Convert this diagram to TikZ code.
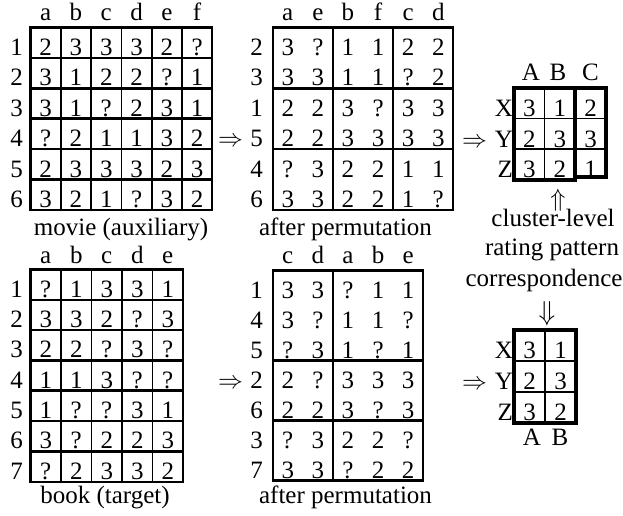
\documentclass[tikz,border=0pt]{standalone}
\usepackage{fontspec}
\setmainfont{Liberation Serif}
\newcommand\bigfs{\fontsize{25}{30}\selectfont}
\tikzset{
 txt/.style={anchor=base, inner sep=0pt, outer sep=0pt, font=\bigfs},
 gridv/.style={line width=1.8pt},
 gridh/.style={line width=2.6pt},
 boxline/.style={line width=2.2pt},
 heavy/.style={line width=4pt},
 light/.style={line width=1.5pt},
}
\begin{document}
\begin{tikzpicture}[x=1pt,y=-1pt]
\useasboundingbox (0,0) rectangle (623,515);

% ---------- movie (auxiliary) ----------
\foreach \row [count=\r] in {{2,3,3,3,2,?},{3,1,2,2,?,1},{3,1,?,2,3,1},{?,2,1,1,3,2},{2,3,3,3,2,3},{3,2,1,?,3,2}}{
  \foreach \v [count=\c] in \row {
    \node[txt] (mv-\r-\c) at ({30.5+(\c-0.5)*30.3},{27.5+\r*30.4-2.5}) {\v};
  }
}
\draw[boxline] (30.5,27.5) rectangle (212.3,209.9);
\foreach \c in {1,...,5} \draw[gridv] ({30.5+\c*30.3},27.5) -- ({30.5+\c*30.3},209.9);
\foreach \r in {1,...,5} \draw[gridh] (30.5,{27.5+\r*30.4}) -- (212.3,{27.5+\r*30.4});
\foreach \l [count=\c] in {a,b,c,d,e,f} \node[txt] (mvc-\c) at ({30.5+(\c-0.5)*30.3},20) {\l};
\foreach \l [count=\r] in {1,2,3,4,5,6} \node[txt] (mvr-\r) at (16.5,{27.5+\r*30.4-2.5}) {\l};
\node[txt] (mvcap) at (121,235) {movie (auxiliary)};

% ---------- top after permutation ----------
\foreach \row [count=\r] in {{3,?,1,1,2,2},{3,3,1,1,?,2},{2,2,3,?,3,3},{2,2,3,3,3,3},{?,3,2,2,1,1},{3,3,2,2,1,?}}{
  \foreach \v [count=\c] in \row {
    \node[txt] (tp-\r-\c) at ({272.7+(\c-0.5)*30.1},{27.5+\r*30.4-2.5}) {\v};
  }
}
\draw[boxline] (272.7,27.5) rectangle (453.3,209.9);
\foreach \c in {2,4} \draw[gridv] ({272.7+\c*30.1},27.5) -- ({272.7+\c*30.1},209.9);
\foreach \r in {2,4} \draw[gridh] (272.7,{27.5+\r*30.4}) -- (453.3,{27.5+\r*30.4});
\foreach \l [count=\c] in {a,e,b,f,c,d} \node[txt] (tpc-\c) at ({272.7+(\c-0.5)*30.1},20) {\l};
\foreach \l [count=\r] in {2,3,1,5,4,6} \node[txt] (tpr-\r) at (256.7,{27.5+\r*30.4-2.5}) {\l};
\node[txt] (tpcap) at (345.5,235) {after permutation};
\node[txt, anchor=base east] (arr1) at (243,{27.5+4*30.4-2.5}) {$\Rightarrow$};

% ---------- cluster-level pattern (top) ----------
\foreach \row [count=\r] in {{3,1,2},{2,3,3},{3,2,1}}{
  \foreach \v [count=\c] in \row {
    \node[txt] (cl-\r-\c) at ({514+(\c-0.5)*30.6},{87.5+\r*30.8-2}) {\v};
  }
}
\draw[light] (544.6,87.5) -- (544.6,180);
\draw[light] (514,118.3) -- (605.8,118.3);
\draw[light] (514,149.1) -- (605.8,149.1);
\draw[heavy] (575.2,87.5) rectangle (605.8,176.5);
\draw[heavy] (514,87.5) rectangle (575.2,180);
\node[txt] (clc-1) at (531,80) {A};
\node[txt] (clc-2) at (558,80) {B};
\node[txt] (clc-3) at (590.5,80) {C};
\foreach \l [count=\r] in {X,Y,Z} \node[txt, anchor=base east] (clr-\r) at (513,{87.5+\r*30.8-2}) {\l};
\node[txt, anchor=base east] (arr2) at (487,{87.5+2*30.8-2}) {$\Rightarrow$};
\node[font=\bigfs, inner sep=0pt] (uparr) at (558,200) {$\Uparrow$};
\node[txt] (t1) at (553,226) {cluster-level};
\node[txt] (t2) at (552,255) {rating pattern};
\node[txt] (t3) at (544,286) {correspondence};
\node[font=\bigfs, inner sep=0pt] (dnarr) at (547,314) {\scalebox{1.1}{$\Downarrow$}};

% ---------- book (target) ----------
\foreach \row [count=\r] in {{?,1,3,3,1},{3,3,2,?,3},{2,2,?,3,?},{1,1,3,?,?},{1,?,?,3,1},{3,?,2,2,3},{?,2,3,3,2}}{
  \foreach \v [count=\c] in \row {
    \node[txt] (bk-\r-\c) at ({30.5+(\c-0.5)*30.5},{269.5+\r*30.3-2.5}) {\v};
  }
}
\draw[boxline] (30.5,269.5) rectangle (183,481.6);
\foreach \c in {1,...,4} \draw[gridv] ({30.5+\c*30.5},269.5) -- ({30.5+\c*30.5},481.6);
\foreach \r in {1,...,6} \draw[gridh] (30.5,{269.5+\r*30.3}) -- (183,{269.5+\r*30.3});
\foreach \l [count=\c] in {a,b,c,d,e} \node[txt] (bkc-\c) at ({30.5+(\c-0.5)*30.5},263) {\l};
\foreach \l [count=\r] in {1,2,3,4,5,6,7} \node[txt] (bkr-\r) at (16.5,{269.5+\r*30.3-2.5}) {\l};
\node[txt] (bkcap) at (105,503) {book (target)};

% ---------- bottom after permutation ----------
\foreach \row [count=\r] in {{3,3,?,1,1},{3,?,1,1,?},{?,3,1,?,1},{2,?,3,3,3},{2,2,3,?,3},{?,3,2,2,?},{3,3,?,2,2}}{
  \foreach \v [count=\c] in \row {
    \node[txt] (bp-\r-\c) at ({272.7+(\c-0.5)*30.1},{270.5+\r*30-2.5}) {\v};
  }
}
\draw[boxline] (272.7,270.5) rectangle (423.2,480.5);
\draw[gridv] (332.9,270.5) -- (332.9,480.5);
\foreach \r in {3,5} \draw[gridh] (272.7,{270.5+\r*30}) -- (423.2,{270.5+\r*30});
\foreach \l [count=\c] in {c,d,a,b,e} \node[txt] (bpc-\c) at ({272.7+(\c-0.5)*30.1},263) {\l};
\foreach \l [count=\r] in {1,4,5,2,6,3,7} \node[txt] (bpr-\r) at (256.7,{270.5+\r*30-2.5}) {\l};
\node[txt] (bpcap) at (345.5,503) {after permutation};
\node[txt, anchor=base east] (arr3) at (243,{270.5+4*30-2.5}) {$\Rightarrow$};

% ---------- cluster-level pattern (bottom) ----------
\foreach \row [count=\r] in {{3,1},{2,3},{3,2}}{
  \foreach \v [count=\c] in \row {
    \node[txt] (cb-\r-\c) at ({514+(\c-0.5)*31},{330+\r*30.9-2}) {\v};
  }
}
\draw[light] (545,330) -- (545,422.7);
\draw[light] (514,360.9) -- (576,360.9);
\draw[light] (514,391.8) -- (576,391.8);
\draw[heavy] (514,330) rectangle (576,422.7);
\node[txt] (cbc-1) at (532,445) {A};
\node[txt] (cbc-2) at (560,445) {B};
\foreach \l [count=\r] in {X,Y,Z} \node[txt, anchor=base east] (cbr-\r) at (513,{330+\r*30.9-2}) {\l};
\node[txt, anchor=base east] (arr4) at (487,{330+2*30.9-2}) {$\Rightarrow$};
\end{tikzpicture}
\end{document}
